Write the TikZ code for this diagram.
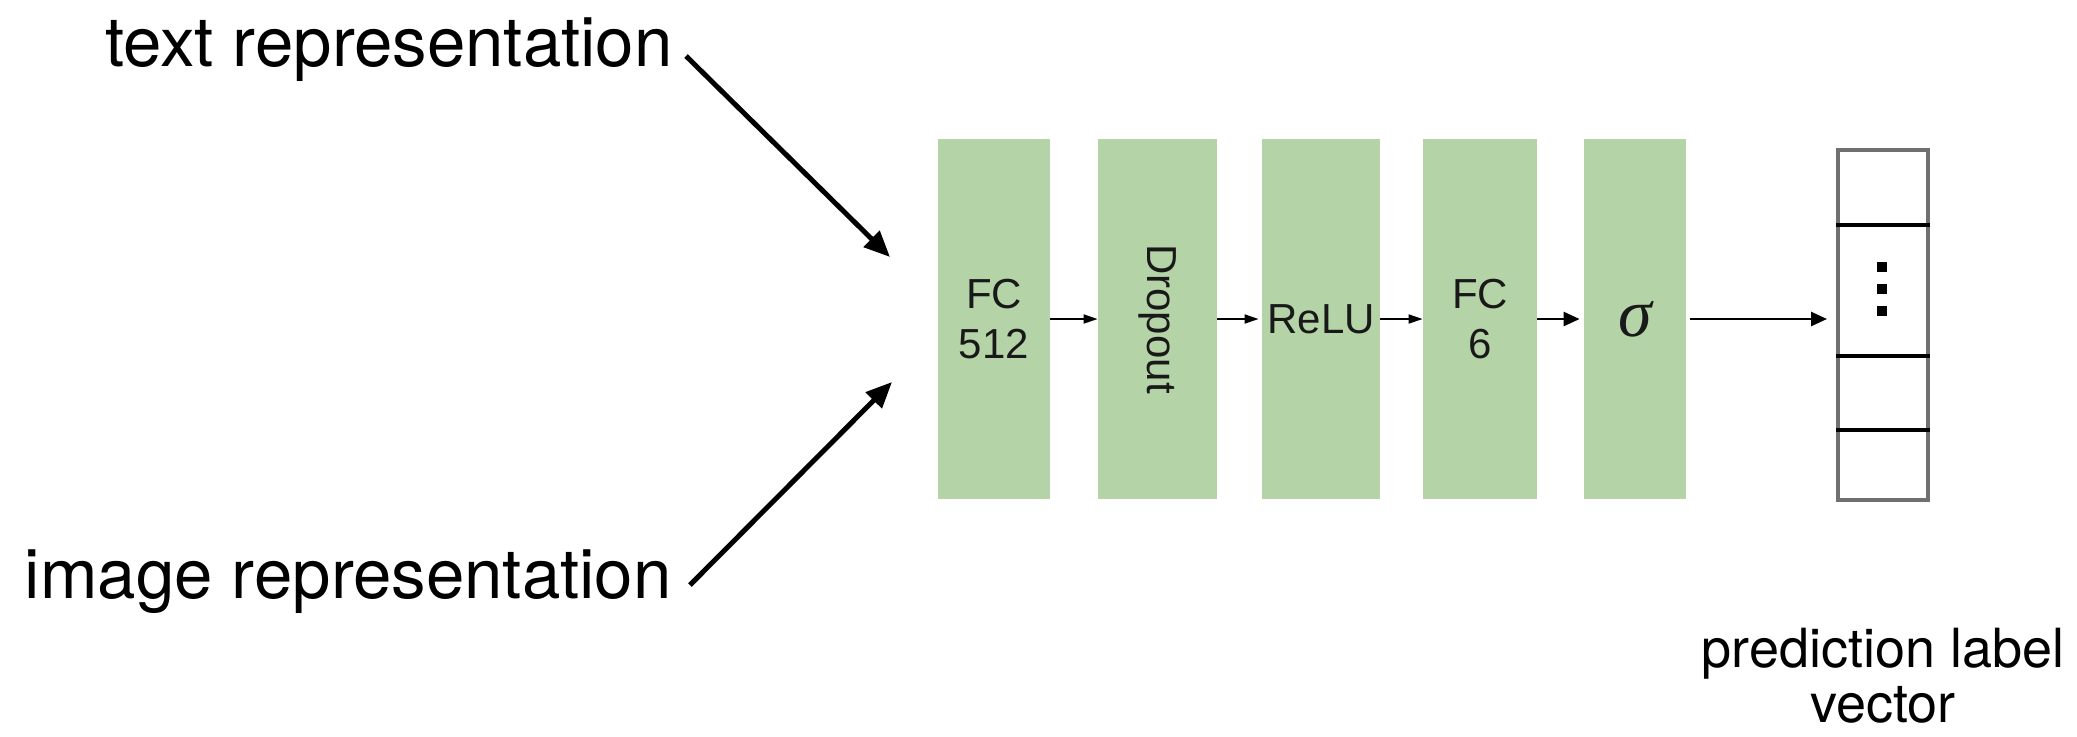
\documentclass[tikz,border=0pt]{standalone}
\usepackage{fontspec}
\setmainfont{TeX Gyre Heros}
\newfontfamily\boxfont{Liberation Sans}
\newfontfamily\greekfont{Liberation Serif}
\usetikzlibrary{arrows.meta}
\definecolor{layergreen}{RGB}{180,212,168}
\definecolor{vecgray}{RGB}{112,112,112}
\begin{document}
\begin{tikzpicture}[x=0.5pt,y=-0.5pt,
  layer/.style={fill=layergreen, draw=none, minimum height=180pt, inner sep=0pt,
    font=\boxfont\fontsize{21}{25}\selectfont, align=center, text=black!90},
  biglabel/.style={inner sep=0pt, font=\fontsize{34.5}{40}\selectfont},
  feed/.style={line width=2.5pt, -{Triangle[length=13pt,width=11pt]}},
  flow/.style={line width=0.9pt, -{Triangle[length=7pt,width=4.5pt]}},
  flowbig/.style={line width=1.3pt, -{Triangle[length=8pt,width=7pt]}},
  divider/.style={line width=2pt},
]
\path[use as bounding box, fill=white] (0,0) rectangle (2077,736);

% classifier head layers
\node[layer, minimum width=56pt]   (fc1)  at (994,319)   {FC\\512};
\node[layer, minimum width=59.5pt] (drop) at (1157.5,319) {};
\node[inner sep=0pt, rotate=-90, font=\boxfont\fontsize{21}{25}\selectfont, text=black!90]
  (droptext) at (drop.center) {Dropout};
\node[layer, minimum width=59pt]   (relu) at (1321,319)  {ReLU};
\node[layer, minimum width=57pt]   (fc2)  at (1480,319)  {FC\\6};
\node[layer, minimum width=51pt, font=\greekfont\itshape\fontsize{34}{34}\selectfont]
  (sig) at (1635,319) {σ};

% output label vector
\node[draw=vecgray, line width=2pt, minimum width=45pt, minimum height=175pt, inner sep=0pt]
  (vec) at (1883,325) {};
\foreach \yy in {225,356,430}
  \draw[divider] (1836,\yy) -- (1930,\yy);
\foreach \yy in {267,289,311}
  \fill (1877,\yy-5) rectangle (1887,\yy+5);

% labels
\node[biglabel, anchor=base east] (txt) at (673,66)  {text representation};
\node[biglabel, anchor=base east] (img) at (672,598) {image representation};
\node[inner sep=0pt, align=center, font=\fontsize{27}{27.5}\selectfont, anchor=base]
  (pred) at (1883,722) {prediction label\\vector};

% inputs
\coordinate (tstart) at (686,56);
\coordinate (tend)   at (890,257);
\coordinate (istart) at (690,585);
\coordinate (iend)   at (892,382);
\draw[feed] (tstart) -- (tend);
\draw[feed] (istart) -- (iend);

% layer connections
\draw[flow] (fc1) -- (drop);
\draw[flow, shorten >=1.5pt] (drop) -- (relu);
\draw[flow] (relu) -- (fc2);
\draw[flowbig, shorten >=2pt] (fc2) -- (sig);
\draw[flowbig, shorten <=2pt, shorten >=4.5pt] (sig.east) -- (vec.west |- sig.east);
\end{tikzpicture}
\end{document}
